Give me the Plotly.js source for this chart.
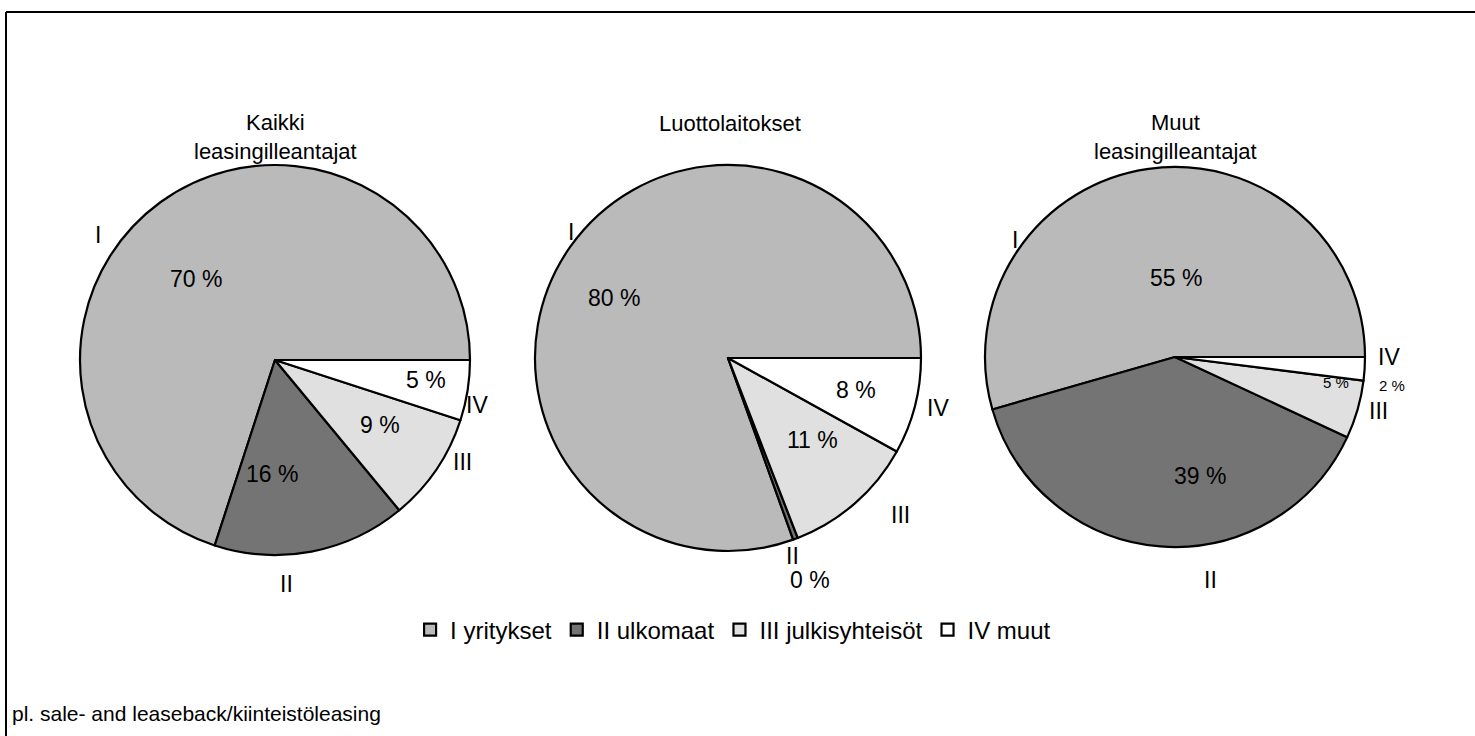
<!DOCTYPE html>
<html>
<head>
<meta charset="utf-8">
<script src="https://cdn.plot.ly/plotly-3.0.1.min.js"></script>
<style>html,body{margin:0;padding:0;background:#fff;}#chart{width:1475px;height:736px;}</style>
</head>
<body>
<div id="chart"></div>
<script>
// ---- data ----
const categories = ["I yritykset", "II ulkomaat", "III julkisyhteisöt", "IV muut"];
const romans = ["I", "II", "III", "IV"];
const pieTitles = ["Kaikki<br>leasingilleantajat", "Luottolaitokset", "Muut<br>leasingilleantajat"];
const valuesAll = [70, 16, 9, 5];
const valuesCredit = [80, 0.4, 11, 8];
const valuesOther = [55, 39, 5, 2];
const footnote = "pl. sale- and leaseback/kiinteistöleasing";

// ---- styles ----
const W = 1475, H = 736;
const colors = ["#bababa", "#747474", "#e0e0e0", "#ffffff"];
const FONT = "Liberation Sans, Arial, sans-serif";
function px(x, y) { return {x: x / W, y: 1 - y / H}; }

const pies = [
  {vals: valuesAll,    cx: 275,  cy: 360, r: 195,
   pct: [[196, 279, 23], [272, 474, 23], [380, 425, 23], [426, 380, 23]],
   rom: [[98, 235], [286, 584], [462, 462], [477, 405]], title: [275, 137]},
  {vals: valuesCredit, cx: 728,  cy: 358, r: 193,
   pct: [[614, 298, 23], [810, 580, 23], [812, 440, 23], [856, 390, 23]],
   rom: [[571, 232], [792, 556], [900, 515], [938, 408]], title: [730, 123]},
  {vals: valuesOther,  cx: 1175, cy: 357, r: 190,
   pct: [[1176, 278, 23], [1200, 476, 23], [1336, 383, 15], [1392, 385, 15]],
   rom: [[1015, 240], [1210, 580], [1378, 411], [1389, 357]], title: [1175, 137]}
];

const traces = pies.map((p, i) => {
  const total = p.vals.reduce((a, b) => a + b, 0);
  return {
    type: "pie",
    labels: categories,
    values: p.vals,
    sort: false,
    direction: "counterclockwise",
    // first slice begins at 3 o'clock and runs counter-clockwise
    rotation: 90 - 360 * p.vals[0] / total,
    textinfo: "none",
    hoverinfo: "label+value",
    marker: {colors: colors, line: {color: "#000", width: 2.2}},
    domain: {x: [(p.cx - p.r) / W, (p.cx + p.r) / W], y: [1 - (p.cy + p.r) / H, 1 - (p.cy - p.r) / H]},
    showlegend: i === 0
  };
});

const annotations = [];
pies.forEach((p, i) => {
  const t = px(p.title[0], p.title[1]);
  annotations.push({xref: "paper", yref: "paper", x: t.x, y: t.y, text: pieTitles[i], showarrow: false,
    font: {family: FONT, size: 22, color: "#000"}, xanchor: "center", yanchor: "middle"});
  p.vals.forEach((v, k) => {
    const a = px(p.pct[k][0], p.pct[k][1]);
    annotations.push({xref: "paper", yref: "paper", x: a.x, y: a.y, text: Math.round(v) + " %", showarrow: false,
      font: {family: FONT, size: p.pct[k][2], color: "#000"}, xanchor: "center", yanchor: "middle"});
    const b = px(p.rom[k][0], p.rom[k][1]);
    annotations.push({xref: "paper", yref: "paper", x: b.x, y: b.y, text: romans[k], showarrow: false,
      font: {family: FONT, size: 23, color: "#000"}, xanchor: "center", yanchor: "middle"});
  });
});
const fn = px(10, 713);
annotations.push({xref: "paper", yref: "paper", x: fn.x, y: fn.y, text: footnote, showarrow: false,
  font: {family: FONT, size: 21, color: "#000"}, xanchor: "left", yanchor: "middle"});

const layout = {
  width: W, height: H,
  margin: {l: 0, r: 0, t: 0, b: 0},
  paper_bgcolor: "#fff",
  plot_bgcolor: "#fff",
  showlegend: true,
  legend: {orientation: "h", x: 0.497, xanchor: "center", y: 1 - 630 / H, yanchor: "middle",
    font: {family: FONT, size: 24, color: "#000"}, traceorder: "normal", itemclick: false},
  annotations: annotations,
  shapes: [
    {type: "line", xref: "paper", yref: "paper", x0: 6 / W, x1: 1, y0: 1 - 12 / H, y1: 1 - 12 / H, line: {color: "#000", width: 2}},
    {type: "line", xref: "paper", yref: "paper", x0: 6 / W, x1: 6 / W, y0: 1 - 12 / H, y1: 0, line: {color: "#000", width: 2}}
  ]
};

Plotly.newPlot("chart", traces, layout, {displayModeBar: false, staticPlot: true});
</script>
</body>
</html>
